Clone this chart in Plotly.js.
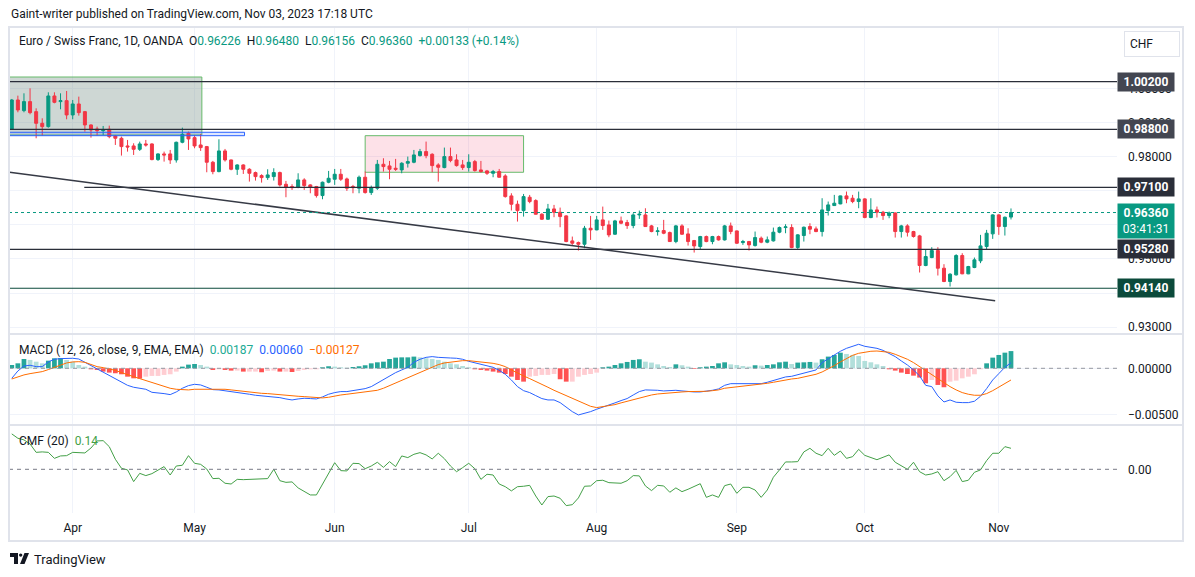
<!DOCTYPE html>
<html>
<head>
<meta charset="utf-8">
<script src="https://cdn.plot.ly/plotly-3.0.1.min.js"></script>
<style>
html,body{margin:0;padding:0;background:#fff;}
#chart{width:1195px;height:577px;}
</style>
</head>
<body>
<div id="chart"></div>
<script>
// EUR/CHF daily, OANDA, 20 Mar 2023 - 3 Nov 2023
var firstDay = '2023-03-20', lastDay = '2023-11-03';
var monthStarts = ['2023-04-03','2023-05-01','2023-06-01','2023-07-03','2023-08-01','2023-09-01','2023-10-02','2023-11-01'];
var monthLabels = ['Apr','May','Jun','Jul','Aug','Sep','Oct','Nov'];
// price scale ticks; the ones sitting under a level label are covered on the chart
var priceTicks = [0.93,0.94,0.95,0.96,0.97,0.98,0.99,1.00];
var priceTickText = ['0.93000','','0.95000','','','0.98000','0.99000','1.00000'];

var openP = [
0.98810,0.99660,0.99348,0.99612,0.99318,0.98976,0.98879,0.99778,0.99612,0.99641,
0.99221,0.99543,0.99318,0.98928,0.98810,0.98762,0.98801,0.98605,0.98537,0.98312,
0.98312,0.98214,0.98371,0.98371,0.97912,0.98078,0.98078,0.97902,0.98420,0.98683,
0.98556,0.98341,0.98293,0.97834,0.97560,0.98166,0.97902,0.97628,0.97755,0.97628,
0.97531,0.97443,0.97384,0.97414,0.97531,0.97189,0.97121,0.97101,0.97316,0.97170,
0.97121,0.96857,0.97248,0.97336,0.97482,0.97345,0.97121,0.97072,0.97394,0.96945,
0.97072,0.97775,0.97726,0.97658,0.97609,0.97805,0.97834,0.98029,0.98147,0.98068,
0.97756,0.97678,0.98000,0.97902,0.97756,0.97678,0.97853,0.97609,0.97580,0.97511,
0.97560,0.97433,0.96847,0.96603,0.96417,0.96808,0.96710,0.96310,0.96163,0.96466,
0.96368,0.96261,0.95528,0.95479,0.95430,0.95899,0.95851,0.96144,0.95997,0.95724,
0.96114,0.96066,0.95978,0.96290,0.96290,0.95968,0.95802,0.95831,0.95772,0.95509,
0.95968,0.95733,0.95538,0.95362,0.95655,0.95509,0.95655,0.95557,0.95968,0.95821,
0.95479,0.95509,0.95391,0.95607,0.95490,0.95529,0.95783,0.95919,0.95919,0.95333,
0.95685,0.95949,0.95880,0.95802,0.96418,0.96564,0.96613,0.96848,0.96779,0.96682,
0.96760,0.96213,0.96437,0.96369,0.96271,0.96349,0.95802,0.95968,0.95802,0.95675,
0.94806,0.95040,0.95245,0.94727,0.94337,0.94532,0.95099,0.94562,0.94747,0.94943,
0.95363,0.95734,0.96291,0.95949,0.96226];
var highP = [
0.99690,0.99787,0.99856,1.00002,0.99416,0.99123,0.99885,0.99885,0.99856,0.99924,
0.99660,0.99758,0.99338,0.98947,0.98879,0.98898,0.98908,0.98634,0.98586,0.98488,
0.98390,0.98439,0.98488,0.98390,0.98097,0.98146,0.98195,0.98439,0.98849,0.98732,
0.98634,0.98664,0.98312,0.97873,0.98508,0.98224,0.97912,0.97775,0.97775,0.97658,
0.97560,0.97482,0.97629,0.97658,0.97560,0.97287,0.97189,0.97511,0.97365,0.97189,
0.97140,0.97267,0.97580,0.97638,0.97638,0.97384,0.97170,0.97443,0.97560,0.97150,
0.97902,0.97951,0.97873,0.97932,0.97834,0.98000,0.98195,0.98225,0.98440,0.98098,
0.97805,0.98264,0.98264,0.98068,0.97902,0.98068,0.97902,0.97873,0.97609,0.97609,
0.97638,0.97482,0.96925,0.96710,0.96905,0.96876,0.96749,0.96339,0.96613,0.96583,
0.96505,0.96280,0.95655,0.95509,0.95968,0.96261,0.96261,0.96534,0.96124,0.96144,
0.96241,0.96144,0.96339,0.96417,0.96485,0.95997,0.95929,0.96144,0.95802,0.95997,
0.96017,0.95899,0.95557,0.95675,0.95684,0.95675,0.95684,0.95997,0.96066,0.95831,
0.95557,0.95528,0.95802,0.95656,0.95656,0.95919,0.95949,0.96017,0.96017,0.95724,
0.95949,0.96046,0.95949,0.96779,0.96682,0.96877,0.96857,0.96975,0.96877,0.96975,
0.96779,0.96779,0.96535,0.96408,0.96388,0.96359,0.95998,0.96017,0.95822,0.95705,
0.95265,0.95343,0.95343,0.94845,0.94581,0.95138,0.95167,0.94796,0.95040,0.95705,
0.95851,0.96310,0.96310,0.96242,0.96480];
var lowP = [
0.98781,0.99299,0.99299,0.99240,0.98537,0.98615,0.98849,0.99563,0.99387,0.99094,
0.99094,0.99201,0.98732,0.98556,0.98615,0.98634,0.98537,0.98341,0.98029,0.98146,
0.98048,0.98166,0.98293,0.97892,0.97873,0.97853,0.97785,0.97824,0.98390,0.98195,
0.98244,0.98166,0.97540,0.97482,0.97540,0.97853,0.97599,0.97462,0.97491,0.97267,
0.97296,0.97237,0.97316,0.97297,0.97121,0.96808,0.97023,0.97072,0.97023,0.96925,
0.96798,0.96749,0.97218,0.97170,0.97287,0.96994,0.96925,0.96925,0.96915,0.96876,
0.97023,0.97560,0.97336,0.97580,0.97511,0.97678,0.97805,0.98000,0.97951,0.97541,
0.97267,0.97658,0.97834,0.97707,0.97609,0.97560,0.97560,0.97531,0.97463,0.97394,
0.97384,0.96798,0.96420,0.96095,0.96241,0.96632,0.96300,0.96144,0.96144,0.96222,
0.95929,0.95489,0.95411,0.95245,0.95313,0.95557,0.95840,0.95851,0.95636,0.95704,
0.96017,0.95880,0.95899,0.96173,0.95940,0.95782,0.95684,0.95724,0.95499,0.95460,
0.95704,0.95391,0.95186,0.95264,0.95489,0.95430,0.95538,0.95538,0.95724,0.95440,
0.95411,0.95245,0.95362,0.95460,0.95460,0.95509,0.95753,0.95753,0.95314,0.95294,
0.95509,0.95724,0.95783,0.95656,0.96271,0.96560,0.96603,0.96633,0.96633,0.96486,
0.96193,0.96193,0.96213,0.96144,0.96193,0.95626,0.95626,0.95656,0.95626,0.94601,
0.94786,0.95021,0.94513,0.94317,0.94190,0.94513,0.94552,0.94552,0.94728,0.94875,
0.95265,0.95587,0.95705,0.95685,0.96156];
var closeP = [
0.99660,0.99367,0.99612,0.99289,0.98976,0.98879,0.99778,0.99592,0.99641,0.99221,
0.99543,0.99289,0.98928,0.98781,0.98762,0.98781,0.98586,0.98537,0.98293,0.98283,
0.98214,0.98371,0.98341,0.97912,0.98078,0.98048,0.97902,0.98420,0.98654,0.98517,
0.98312,0.98263,0.97834,0.97560,0.98166,0.97902,0.97628,0.97755,0.97628,0.97511,
0.97413,0.97384,0.97463,0.97531,0.97170,0.97101,0.97091,0.97316,0.97150,0.97101,
0.96857,0.97248,0.97365,0.97482,0.97336,0.97072,0.97091,0.97394,0.96945,0.97091,
0.97775,0.97707,0.97629,0.97629,0.97805,0.97853,0.98049,0.98147,0.98029,0.97736,
0.97687,0.98000,0.97883,0.97736,0.97678,0.97834,0.97590,0.97560,0.97511,0.97560,
0.97394,0.96827,0.96603,0.96417,0.96827,0.96681,0.96310,0.96163,0.96466,0.96368,
0.96241,0.95509,0.95460,0.95430,0.95899,0.95851,0.96144,0.95978,0.95704,0.96114,
0.96046,0.95978,0.96290,0.96310,0.95948,0.95802,0.95821,0.95753,0.95509,0.95968,
0.95724,0.95509,0.95381,0.95655,0.95509,0.95655,0.95557,0.95968,0.95802,0.95460,
0.95509,0.95411,0.95626,0.95490,0.95558,0.95783,0.95919,0.95939,0.95333,0.95705,
0.95929,0.95871,0.95802,0.96437,0.96584,0.96633,0.96848,0.96760,0.96682,0.96760,
0.96213,0.96437,0.96369,0.96271,0.96349,0.95802,0.95968,0.95783,0.95656,0.94806,
0.95070,0.95245,0.94727,0.94337,0.94552,0.95099,0.94562,0.94777,0.94972,0.95382,
0.95753,0.96291,0.95949,0.96222,0.96360];

var macdLine = [
-0.00109,-0.00029,0.00025,0.00033,0.00018,0.00018,0.00069,0.00098,0.00105,0.00109,
0.00109,0.00101,0.00065,0.00025,-0.00007,-0.00047,-0.00083,-0.00112,-0.00156,-0.00185,
-0.00206,-0.00221,-0.00228,-0.00261,-0.00264,-0.00275,-0.00286,-0.00257,-0.00217,-0.00188,
-0.00174,-0.00181,-0.00206,-0.00232,-0.00235,-0.00243,-0.00257,-0.00264,-0.00272,-0.00282,
-0.00293,-0.00300,-0.00308,-0.00308,-0.00319,-0.00333,-0.00344,-0.00333,-0.00326,-0.00329,
-0.00333,-0.00311,-0.00282,-0.00264,-0.00253,-0.00253,-0.00243,-0.00235,-0.00221,-0.00199,
-0.00159,-0.00119,-0.00083,-0.00047,-0.00018,0.00011,0.00065,0.00098,0.00119,0.00127,
0.00119,0.00119,0.00112,0.00109,0.00098,0.00076,0.00058,0.00043,0.00029,0.00011,
-0.00022,-0.00065,-0.00127,-0.00199,-0.00243,-0.00264,-0.00297,-0.00329,-0.00344,-0.00344,
-0.00373,-0.00420,-0.00471,-0.00507,-0.00492,-0.00471,-0.00445,-0.00424,-0.00405,-0.00376,
-0.00351,-0.00329,-0.00290,-0.00253,-0.00235,-0.00235,-0.00239,-0.00246,-0.00239,-0.00239,
-0.00246,-0.00253,-0.00257,-0.00257,-0.00250,-0.00239,-0.00224,-0.00185,-0.00167,-0.00167,
-0.00170,-0.00174,-0.00170,-0.00167,-0.00152,-0.00134,-0.00109,-0.00094,-0.00087,-0.00069,
-0.00051,-0.00033,-0.00018,0.00062,0.00105,0.00145,0.00185,0.00217,0.00243,0.00261,
0.00239,0.00228,0.00217,0.00195,0.00163,0.00127,0.00080,0.00036,-0.00018,-0.00083,
-0.00185,-0.00199,-0.00300,-0.00366,-0.00344,-0.00369,-0.00373,-0.00373,-0.00358,-0.00304,
-0.00221,-0.00127,-0.00058,0.00011,0.00060];
var signalLine = [
-0.00116,-0.00091,-0.00072,-0.00058,-0.00047,-0.00036,-0.00014,0.00011,0.00040,0.00058,
0.00069,0.00072,0.00065,0.00040,0.00018,0.00007,-0.00007,-0.00022,-0.00047,-0.00065,
-0.00091,-0.00112,-0.00134,-0.00156,-0.00181,-0.00203,-0.00217,-0.00228,-0.00235,-0.00235,
-0.00228,-0.00228,-0.00224,-0.00224,-0.00224,-0.00228,-0.00235,-0.00243,-0.00246,-0.00257,
-0.00264,-0.00272,-0.00275,-0.00282,-0.00286,-0.00293,-0.00297,-0.00304,-0.00308,-0.00315,
-0.00322,-0.00322,-0.00315,-0.00300,-0.00290,-0.00282,-0.00275,-0.00268,-0.00261,-0.00253,
-0.00239,-0.00217,-0.00188,-0.00159,-0.00127,-0.00098,-0.00069,-0.00040,-0.00011,0.00014,
0.00040,0.00058,0.00069,0.00076,0.00083,0.00083,0.00076,0.00069,0.00065,0.00054,
0.00040,0.00018,-0.00018,-0.00054,-0.00083,-0.00112,-0.00141,-0.00170,-0.00206,-0.00239,
-0.00268,-0.00297,-0.00326,-0.00355,-0.00387,-0.00413,-0.00427,-0.00416,-0.00409,-0.00395,
-0.00376,-0.00358,-0.00337,-0.00319,-0.00304,-0.00290,-0.00279,-0.00272,-0.00264,-0.00261,
-0.00257,-0.00253,-0.00253,-0.00253,-0.00250,-0.00243,-0.00235,-0.00217,-0.00210,-0.00203,
-0.00195,-0.00192,-0.00181,-0.00174,-0.00163,-0.00152,-0.00138,-0.00127,-0.00116,-0.00109,
-0.00094,-0.00080,-0.00065,-0.00040,-0.00007,0.00029,0.00069,0.00109,0.00141,0.00163,
0.00177,0.00185,0.00188,0.00185,0.00174,0.00152,0.00127,0.00098,0.00062,0.00018,
-0.00022,-0.00072,-0.00119,-0.00159,-0.00199,-0.00235,-0.00264,-0.00282,-0.00293,-0.00293,
-0.00275,-0.00243,-0.00203,-0.00159,-0.00127];
var macdHist = [
0.00036,0.00054,0.00101,0.00091,0.00072,0.00054,0.00083,0.00109,0.00112,0.00091,
0.00072,0.00036,0.00018,-0.00011,-0.00018,-0.00036,-0.00047,-0.00054,-0.00065,-0.00091,
-0.00109,-0.00112,-0.00091,-0.00083,-0.00083,-0.00072,-0.00065,-0.00036,0.00018,0.00040,
0.00047,0.00036,0.00018,-0.00018,-0.00011,-0.00018,-0.00025,-0.00025,-0.00036,-0.00036,
-0.00036,-0.00043,-0.00029,-0.00025,-0.00036,-0.00036,-0.00040,-0.00029,-0.00018,-0.00011,
-0.00011,0.00011,0.00022,0.00018,0.00011,0.00007,0.00014,0.00022,0.00033,0.00054,
0.00065,0.00072,0.00101,0.00116,0.00119,0.00119,0.00127,0.00119,0.00109,0.00101,
0.00091,0.00072,0.00054,0.00043,0.00025,0.00011,-0.00011,-0.00018,-0.00025,-0.00036,
-0.00047,-0.00062,-0.00091,-0.00127,-0.00145,-0.00091,-0.00083,-0.00072,-0.00072,-0.00062,
-0.00119,-0.00145,-0.00145,-0.00091,-0.00072,-0.00062,-0.00047,0.00011,0.00018,0.00036,
0.00054,0.00069,0.00091,0.00098,0.00072,0.00062,0.00043,0.00025,0.00014,0.00043,
0.00033,0.00018,-0.00007,0.00011,0.00018,0.00025,0.00054,0.00065,0.00043,0.00036,
0.00025,0.00018,0.00033,0.00029,0.00036,0.00043,0.00065,0.00072,0.00047,0.00062,
0.00065,0.00069,0.00062,0.00098,0.00127,0.00145,0.00170,0.00156,0.00145,0.00134,
0.00080,0.00065,0.00043,0.00025,-0.00011,-0.00025,-0.00047,-0.00062,-0.00080,-0.00101,
-0.00163,-0.00127,-0.00181,-0.00206,-0.00145,-0.00134,-0.00109,-0.00091,-0.00065,-0.00011,
0.00054,0.00116,0.00145,0.00170,0.00187];
var cmfLine = [
0.236,0.207,0.196,0.169,0.113,0.116,0.113,0.073,0.089,0.091,
0.113,0.113,0.109,0.142,0.189,0.191,0.151,0.067,0.007,-0.004,
-0.082,-0.027,-0.042,-0.029,-0.004,0.018,-0.038,0.022,0.027,0.091,
0.040,0.033,0.002,-0.062,-0.060,-0.093,-0.098,-0.067,-0.069,-0.067,
-0.067,-0.064,-0.062,0.000,-0.076,-0.087,-0.084,-0.124,-0.149,-0.171,
-0.171,-0.100,-0.027,0.044,-0.009,-0.011,0.040,0.038,0.004,0.022,
0.047,0.013,0.051,0.018,0.089,0.078,0.100,0.111,0.096,0.069,
0.107,0.071,0.022,-0.016,0.011,0.040,0.004,-0.067,-0.033,-0.038,
-0.098,-0.116,-0.144,-0.116,-0.113,-0.107,-0.178,-0.238,-0.182,-0.178,
-0.193,-0.242,-0.236,-0.191,-0.113,-0.111,-0.076,-0.073,-0.089,-0.089,
-0.093,-0.076,-0.042,-0.044,-0.111,-0.142,-0.107,-0.111,-0.153,-0.124,
-0.149,-0.133,-0.116,-0.096,-0.187,-0.171,-0.187,-0.109,-0.098,-0.160,
-0.120,-0.120,-0.138,-0.187,-0.138,-0.053,-0.004,0.049,0.049,0.051,
0.116,0.140,0.107,0.091,0.140,0.093,0.122,0.073,0.084,0.133,
0.093,0.080,0.064,0.080,0.096,0.047,0.022,0.000,0.047,-0.016,
-0.038,-0.031,-0.016,-0.076,-0.049,-0.007,-0.082,-0.073,-0.020,-0.004,
0.058,0.107,0.107,0.151,0.140];

// drawings on the chart
var levels = [1.00200, 0.98800, 0.97100, 0.95280, 0.94140];
var levelStart = [-0.5, -0.5, 11.9, -0.5, -0.5];   // bar index where each line starts
var levelBox = ['#434651','#434651','#2A2E39','#2A2E39','#0B4A3B'];
var lastPrice = 0.96360;
var grayZone = [-0.5, 31.2, 0.98633, 1.00334];   // x0, x1, y0, y1
var blueZone = [-0.5, 38.2, 0.98613, 0.98713];
var pinkZone = [58.0, 84.0, 0.97540, 0.98613];
var trend = [-0.36, 0.97540, 161.4, 0.93774];

function tradingDays(a, b) {
  var out = [], d = new Date(a + 'T00:00:00Z'), e = new Date(b + 'T00:00:00Z');
  while (d <= e) {
    var w = d.getUTCDay();
    if (w > 0 && w < 6) out.push(d.toISOString().slice(0, 10));
    d.setUTCDate(d.getUTCDate() + 1);
  }
  return out;
}
var days = tradingDays(firstDay, lastDay);

var W = 1195, H = 577;
function px(x){ return x / W; }
function py(y){ return 1 - y / H; }

var FONT = 'Roboto, "Liberation Sans", sans-serif';
var UP = '#089981', DOWN = '#F23645';

var histColors = macdHist.map(function(h, k){
  var p = k > 0 ? macdHist[k-1] : 0;
  if (h >= 0) return h >= p ? '#26A69A' : '#B2DFDB';
  return h < p ? '#FF5252' : '#FFCDD2';
});

var traces = [
  {type:'candlestick', x:days, open:openP, high:highP, low:lowP, close:closeP,
   xaxis:'x', yaxis:'y', whiskerwidth:0,
   increasing:{line:{color:UP, width:1}, fillcolor:UP},
   decreasing:{line:{color:DOWN, width:1}, fillcolor:DOWN}},
  {type:'bar', x:days, y:macdHist, xaxis:'x2', yaxis:'y2', marker:{color:histColors, line:{width:0}}},
  {type:'scatter', mode:'lines', x:days, y:macdLine, xaxis:'x2', yaxis:'y2', line:{color:'#2962FF', width:1}},
  {type:'scatter', mode:'lines', x:days, y:signalLine, xaxis:'x2', yaxis:'y2', line:{color:'#FF6D00', width:1}},
  {type:'scatter', mode:'lines', x:days, y:cmfLine, xaxis:'x3', yaxis:'y3', line:{color:'#43A047', width:1}}
];

var xr = [-0.456, 181.4];
var xdom = [px(9), px(1117)];
function xax(anchor, labels) {
  return {domain:xdom, anchor:anchor, type:'category', range:xr, fixedrange:true,
    tickvals:monthStarts, ticktext:monthLabels, showticklabels:labels, ticks:'',
    showgrid:true, gridcolor:'#F0F3FA', gridwidth:1, zeroline:false, showline:false,
    tickfont:{family:FONT, size:12, color:'#131722'}, ticklabelstandoff:6,
    rangeslider:{visible:false}};
}
function yax(anchor, dom, range, vals, fmt, grid, txt) {
  var a = {domain:dom, anchor:anchor, side:'right', range:range, fixedrange:true,
    tickvals:vals, tickformat:fmt, ticks:'', showgrid:grid, gridcolor:'#F0F3FA',
    zeroline:false, showline:false, ticklabelstandoff:10,
    tickfont:{family:FONT, size:12, color:'#131722'}};
  if (txt) a.ticktext = txt;
  return a;
}

var shapes = [];
// zones
shapes.push({type:'rect', layer:'between', xref:'x', yref:'y', x0:grayZone[0], x1:grayZone[1], y0:grayZone[2], y1:grayZone[3],
  fillcolor:'rgba(120,144,136,0.36)', line:{color:'#66BB6A', width:1}});
shapes.push({type:'rect', layer:'between', xref:'x', yref:'y', x0:pinkZone[0], x1:pinkZone[1], y0:pinkZone[2], y1:pinkZone[3],
  fillcolor:'rgba(242,54,100,0.15)', line:{color:'#66BB6A', width:1}});
shapes.push({type:'rect', layer:'above', xref:'x', yref:'y', x0:blueZone[0], x1:blueZone[1], y0:blueZone[2], y1:blueZone[3],
  fillcolor:'rgba(41,98,255,0.15)', line:{color:'#2962FF', width:1}});
// level lines
levels.forEach(function(v, k){
  shapes.push({type:'line', xref:'x', yref:'y', x0:levelStart[k], x1:xr[1], y0:v, y1:v,
    line:{color: k === 4 ? '#0B4A3B' : '#2A2E39', width:1.2}});
});
// trend line
shapes.push({type:'line', xref:'x', yref:'y', x0:trend[0], y0:trend[1], x1:trend[2], y1:trend[3],
  line:{color:'#363A45', width:1.5}});
// last price dotted line
shapes.push({type:'line', xref:'paper', yref:'y', x0:px(9), x1:px(1117), y0:lastPrice, y1:lastPrice,
  line:{color:UP, width:1, dash:'dot'}});
// zero lines
shapes.push({type:'line', xref:'paper', yref:'y2', x0:px(9), x1:px(1117), y0:0, y1:0,
  line:{color:'#9598A1', width:1, dash:'4px,4px'}});
shapes.push({type:'line', xref:'paper', yref:'y3', x0:px(9), x1:px(1117), y0:0, y1:0,
  line:{color:'#787B86', width:1, dash:'4px,4px'}});
// frame and pane separators
shapes.push({type:'rect', xref:'paper', yref:'paper', x0:px(9), x1:px(1183), y0:py(541), y1:py(27),
  line:{color:'#E0E3EB', width:2}});
[334, 425].forEach(function(y){
  shapes.push({type:'line', xref:'paper', yref:'paper', x0:px(9), x1:px(1183), y0:py(y), y1:py(y),
    line:{color:'#E0E3EB', width:2}});
});
// TradingView logo mark
function pth(pts){ return 'M' + pts.map(function(p){ return px(p[0]) + ',' + py(p[1]); }).join(' L') + ' Z'; }
shapes.push({type:'path', xref:'paper', yref:'paper', path:pth([[10,553],[18,553],[18,564],[14,564],[14,557],[10,557]]),
  fillcolor:'#131722', line:{width:0}});
shapes.push({type:'circle', xref:'paper', yref:'paper', x0:px(19), x1:px(22.4), y0:py(556.8), y1:py(553.4),
  fillcolor:'#131722', line:{width:0}});
shapes.push({type:'path', xref:'paper', yref:'paper', path:pth([[24.5,553],[29,553],[24.5,564],[20,564]]),
  fillcolor:'#131722', line:{width:0}});

var NB = '\u00a0';
function g(t, c){ return '<span style="color:' + c + '">' + t + '</span>'; }
var annotations = [
  {xref:'paper', yref:'paper', x:px(9), y:py(14), xanchor:'left', yanchor:'middle', showarrow:false,
   text:'Gaint-writer published on TradingView.com, Nov 03, 2023 17:18 UTC',
   font:{family:FONT, size:12, color:'#131722'}},
  {xref:'paper', yref:'paper', x:px(17), y:py(41), xanchor:'left', yanchor:'middle', showarrow:false,
   text:'Euro / Swiss Franc, 1D, OANDA' + NB + NB + 'O' + g('0.96226', UP) + NB + NB + 'H' + g('0.96480', UP) +
        NB + NB + 'L' + g('0.96156', UP) + NB + NB + 'C' + g('0.96360', UP) + NB + NB + g('+0.00133 (+0.14%)', UP),
   font:{family:FONT, size:12, color:'#131722'}},
  {xref:'paper', yref:'paper', x:px(17), y:py(350), xanchor:'left', yanchor:'middle', showarrow:false,
   text:'MACD (12, 26, close, 9, EMA, EMA)' + NB + NB + g('0.00187', '#22AB94') + NB + NB + g('0.00060', '#2962FF') +
        NB + NB + g('\u22120.00127', '#FF6D00'),
   font:{family:FONT, size:12, color:'#131722'}},
  {xref:'paper', yref:'paper', x:px(17), y:py(441), xanchor:'left', yanchor:'middle', showarrow:false,
   text:'CMF (20)' + NB + NB + g('0.14', '#43A047'), font:{family:FONT, size:12, color:'#131722'}},
  {xref:'paper', yref:'paper', x:px(1124), y:py(44), xanchor:'left', yanchor:'middle', showarrow:false,
   text:'CHF', align:'left', width:44, borderpad:5, bgcolor:'#ffffff', bordercolor:'#E0E3EB', borderwidth:1,
   font:{family:FONT, size:12, color:'#131722'}},
  {xref:'paper', yref:'paper', x:px(32), y:py(559), xanchor:'left', yanchor:'middle', showarrow:false,
   text:'TradingView', font:{family:FONT, size:13, color:'#131722'}}
];
levels.forEach(function(v, k){
  annotations.push({xref:'paper', yref:'y', x:px(1117), y:v, xanchor:'left', yanchor:'middle', showarrow:false,
    text:'<b>' + v.toFixed(5) + '</b>', width:52, borderpad:2, bgcolor:levelBox[k],
    font:{family:FONT, size:12, color:'#ffffff'}});
});
annotations.push({xref:'paper', yref:'y', x:px(1117), y:lastPrice, xanchor:'left', yanchor:'top', yshift:10,
  showarrow:false, text:'<b>' + lastPrice.toFixed(5) + '</b><br>03:41:31', width:52, borderpad:2, bgcolor:UP,
  font:{family:FONT, size:12, color:'#ffffff'}});

var layout = {
  width:W, height:H, margin:{l:0, r:0, t:0, b:0},
  paper_bgcolor:'#ffffff', plot_bgcolor:'#ffffff',
  showlegend:false, hovermode:false, dragmode:false,
  bargap:0.22, boxgap:0.3,
  font:{family:FONT, size:12, color:'#131722'},
  xaxis:xax('y', false),
  xaxis2:xax('y2', false),
  xaxis3:xax('y3', true),
  yaxis:yax('x', [py(334), py(27)], [0.92798, 1.01800], priceTicks, '.5f', true, priceTickText),
  yaxis2:yax('x2', [py(425), py(334)], [-0.006163, 0.003728], [0, -0.005], '.5f', true),
  yaxis3:yax('x3', [py(513), py(425)], [-0.2913, 0.2953], [0], '.2f', false),
  shapes:shapes,
  annotations:annotations
};

Plotly.newPlot('chart', traces, layout, {staticPlot:true, displayModeBar:false});
</script>
</body>
</html>
